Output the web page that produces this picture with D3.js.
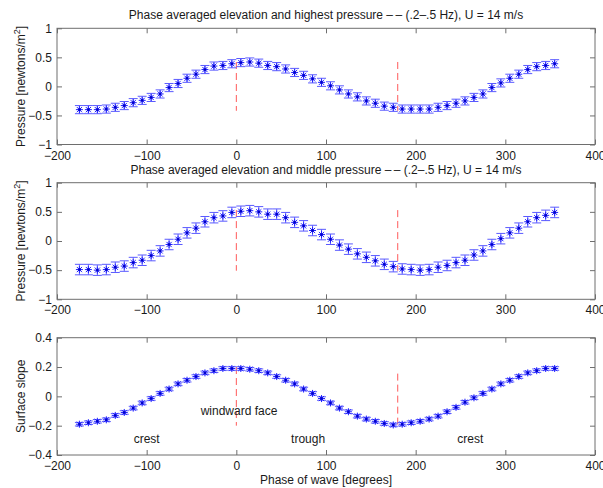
<!DOCTYPE html>
<html>
<head>
<meta charset="utf-8">
<script src="https://cdn.jsdelivr.net/npm/d3@7"></script>
<style>
  body { margin: 0; background: #fff; }
  svg text { font-family: "Liberation Sans", Arial, sans-serif; fill: #1a1a1a; }
</style>
</head>
<body>
<div id="chart"></div>
<script>
const WIDTH = 603;
const HEIGHT = 488;
const PLOT_LEFT = 57;
const PLOT_RIGHT = 595;

// phase of wave, degrees
const PHASE = [-175, -165, -155, -145, -135, -125, -115, -105, -95, -85, -75, -65, -55, -45, -35, -25, -15, -5,
  5, 15, 25, 35, 45, 55, 65, 75, 85, 95, 105, 115, 125, 135, 145, 155, 165, 175,
  185, 195, 205, 215, 225, 235, 245, 255, 265, 275, 285, 295, 305, 315, 325, 335, 345, 355];

// highest pressure
const HIGH_P = [-0.40, -0.40, -0.40, -0.39, -0.36, -0.33, -0.28, -0.24, -0.19, -0.13, -0.02, 0.05, 0.14, 0.21, 0.29, 0.35, 0.36, 0.39,
  0.41, 0.42, 0.40, 0.36, 0.34, 0.30, 0.24, 0.19, 0.13, 0.07, 0.01, -0.06, -0.13, -0.18, -0.25, -0.29, -0.34, -0.36,
  -0.39, -0.39, -0.39, -0.39, -0.36, -0.33, -0.29, -0.25, -0.19, -0.13, -0.02, 0.06, 0.14, 0.21, 0.29, 0.34, 0.36, 0.39];
const HIGH_ERR = 0.07;

// middle pressure
const MID_P = [-0.49, -0.49, -0.50, -0.49, -0.45, -0.43, -0.37, -0.33, -0.25, -0.17, -0.06, 0.03, 0.14, 0.22, 0.33, 0.40, 0.43, 0.49,
  0.51, 0.52, 0.50, 0.46, 0.46, 0.40, 0.32, 0.26, 0.18, 0.11, 0.03, -0.07, -0.14, -0.22, -0.28, -0.34, -0.40, -0.44,
  -0.48, -0.49, -0.50, -0.49, -0.45, -0.42, -0.37, -0.33, -0.24, -0.17, -0.06, 0.04, 0.14, 0.22, 0.33, 0.40, 0.44, 0.49];
const MID_ERR = 0.09;

// surface slope
const SLOPE = [-0.19, -0.18, -0.17, -0.16, -0.13, -0.11, -0.08, -0.045, -0.015, 0.02, 0.05, 0.085, 0.11, 0.135, 0.16, 0.175, 0.19, 0.19,
  0.19, 0.185, 0.175, 0.16, 0.135, 0.11, 0.085, 0.05, 0.02, -0.015, -0.045, -0.08, -0.105, -0.135, -0.155, -0.17, -0.185, -0.195,
  -0.19, -0.18, -0.17, -0.155, -0.135, -0.105, -0.075, -0.04, -0.01, 0.02, 0.05, 0.085, 0.11, 0.135, 0.16, 0.175, 0.19, 0.19];
const SLOPE_ERR = 0.012;

const X_TICKS = [-200, -100, 0, 100, 200, 300, 400];
const X_TICK_LABELS = ["\u2212200", "\u2212100", "0", "100", "200", "300", "400"];
const P_TICKS = [-1, -0.5, 0, 0.5, 1];
const P_TICK_LABELS = ["\u22121", "\u22120.5", "0", "0.5", "1"];
const S_TICKS = [-0.4, -0.2, 0, 0.2, 0.4];
const S_TICK_LABELS = ["\u22120.4", "\u22120.2", "0", "0.2", "0.4"];

// red dashed markers at crest / trough: [x, y0, y1]
const HIGH_DASH = [[0, -0.42, 0.42], [180, -0.42, 0.42]];
const MID_DASH = [[0, -0.51, 0.53], [180, -0.51, 0.53]];
const SLOPE_DASH = [[0, -0.2, 0.2], [180, -0.2, 0.155]];

const ANNOTATIONS = [
  {text: "windward face", x: 3, y: -0.125},
  {text: "crest", x: -100, y: -0.32},
  {text: "trough", x: 80, y: -0.32},
  {text: "crest", x: 261, y: -0.32}
];

const TITLE_HIGH = "Phase averaged elevation and highest pressure \u2013\u2009\u2013 (.2\u2013.5 Hz), U = 14 m/s";
const TITLE_MID = "Phase averaged elevation and middle pressure \u2013\u2009\u2013 (.2\u2013.5 Hz), U = 14 m/s";

const MARKER_COLOR = "#1f1fff";
const ERR_COLOR = "#5a5aff";
const AXIS_COLOR = "#6e6e6e";

const svg = d3.select("#chart").append("svg")
  .attr("width", WIDTH)
  .attr("height", HEIGHT);

const X_SCALE = d3.scaleLinear().domain([-200, 400]).range([PLOT_LEFT, PLOT_RIGHT]);

function drawPanel(opts) {
  const y = d3.scaleLinear().domain(opts.domain).range([opts.bottom, opts.top]);
  const g = svg.append("g");

  // box
  g.append("rect")
    .attr("x", PLOT_LEFT).attr("y", opts.top)
    .attr("width", PLOT_RIGHT - PLOT_LEFT).attr("height", opts.bottom - opts.top)
    .attr("fill", "none").attr("stroke", AXIS_COLOR).attr("stroke-width", 1);

  // axes with inward ticks
  g.append("g")
    .attr("transform", "translate(0," + opts.bottom + ")")
    .call(d3.axisBottom(X_SCALE).tickValues(X_TICKS).tickSizeInner(-5).tickSizeOuter(0)
      .tickPadding(6.5).tickFormat((d, i) => X_TICK_LABELS[i]));
  g.append("g")
    .attr("transform", "translate(0," + opts.top + ")")
    .call(d3.axisTop(X_SCALE).tickValues(X_TICKS).tickSizeInner(-5).tickSizeOuter(0).tickFormat(""));
  g.append("g")
    .attr("transform", "translate(" + PLOT_LEFT + ",0)")
    .call(d3.axisLeft(y).tickValues(opts.ticks).tickSizeInner(-5).tickSizeOuter(0)
      .tickPadding(5).tickFormat((d, i) => opts.tickLabels[i]));
  g.append("g")
    .attr("transform", "translate(" + PLOT_RIGHT + ",0)")
    .call(d3.axisRight(y).tickValues(opts.ticks).tickSizeInner(-5).tickSizeOuter(0).tickFormat(""));

  g.selectAll(".domain").remove();
  g.selectAll(".tick line").attr("stroke", AXIS_COLOR);
  g.selectAll(".tick text")
    .attr("font-size", "12px")
    .attr("font-family", "'Liberation Sans', Arial, sans-serif")
    .attr("fill", "#1a1a1a");

  // red dashed lines
  g.selectAll(".dash")
    .data(opts.dash)
    .enter()
    .append("line")
      .attr("x1", (d) => X_SCALE(d[0]))
      .attr("x2", (d) => X_SCALE(d[0]))
      .attr("y1", (d) => y(d[2]))
      .attr("y2", (d) => y(d[1]))
      .attr("stroke", "#ff5a5a")
      .attr("stroke-width", 1)
      .attr("stroke-dasharray", "7,4");

  const pts = PHASE.map((p, i) => ({x: p, v: opts.values[i]}));
  const cap = 4.5;

  // error bars
  const eb = g.selectAll(".err")
    .data(pts)
    .enter()
    .append("g")
      .attr("stroke", ERR_COLOR)
      .attr("stroke-width", 1);
  eb.append("line")
    .attr("x1", (d) => X_SCALE(d.x)).attr("x2", (d) => X_SCALE(d.x))
    .attr("y1", (d) => y(d.v - opts.err)).attr("y2", (d) => y(d.v + opts.err));
  eb.append("line")
    .attr("x1", (d) => X_SCALE(d.x) - cap).attr("x2", (d) => X_SCALE(d.x) + cap)
    .attr("y1", (d) => y(d.v - opts.err)).attr("y2", (d) => y(d.v - opts.err));
  eb.append("line")
    .attr("x1", (d) => X_SCALE(d.x) - cap).attr("x2", (d) => X_SCALE(d.x) + cap)
    .attr("y1", (d) => y(d.v + opts.err)).attr("y2", (d) => y(d.v + opts.err));

  // asterisk markers
  const r = 3.5;
  const rd = 2.6;
  g.selectAll(".star")
    .data(pts)
    .enter()
    .append("path")
      .attr("d", (d) => {
        const cx = X_SCALE(d.x), cy = y(d.v);
        return "M" + (cx - r) + "," + cy + "H" + (cx + r) +
          "M" + cx + "," + (cy - r) + "V" + (cy + r) +
          "M" + (cx - rd) + "," + (cy - rd) + "L" + (cx + rd) + "," + (cy + rd) +
          "M" + (cx - rd) + "," + (cy + rd) + "L" + (cx + rd) + "," + (cy - rd);
      })
      .attr("stroke", MARKER_COLOR)
      .attr("stroke-width", 1)
      .attr("fill", "none");

  g.selectAll(".dot")
    .data(pts)
    .enter()
    .append("rect")
      .attr("x", (d) => X_SCALE(d.x) - 1.2)
      .attr("y", (d) => y(d.v) - 1.2)
      .attr("width", 2.4).attr("height", 2.4)
      .attr("fill", "#0000c8");

  // title
  if (opts.title) {
    g.append("text")
      .attr("x", (PLOT_LEFT + PLOT_RIGHT) / 2)
      .attr("y", opts.top - 9)
      .attr("text-anchor", "middle")
      .attr("font-size", "12px")
      .text(opts.title);
  }

  // y label
  const cy = (opts.top + opts.bottom) / 2;
  const yl = g.append("text")
    .attr("transform", "translate(25," + cy + ") rotate(-90)")
    .attr("text-anchor", "middle")
    .attr("font-size", "12px");
  if (opts.superLabel) {
    yl.append("tspan").text("Pressure [newtons/m");
    yl.append("tspan").attr("dy", -5).attr("font-size", "9px").text("2");
    yl.append("tspan").attr("dy", 5).text("]");
  } else {
    yl.text(opts.ylabel);
  }
  return {g: g, y: y};
}

drawPanel({top: 28.3, bottom: 144.5, domain: [-1, 1], ticks: P_TICKS, tickLabels: P_TICK_LABELS,
  values: HIGH_P, err: HIGH_ERR, dash: HIGH_DASH, title: TITLE_HIGH, superLabel: true});

drawPanel({top: 182.7, bottom: 299.3, domain: [-1, 1], ticks: P_TICKS, tickLabels: P_TICK_LABELS,
  values: MID_P, err: MID_ERR, dash: MID_DASH, title: TITLE_MID, superLabel: true});

const slopePanel = drawPanel({top: 337.7, bottom: 455, domain: [-0.4, 0.4], ticks: S_TICKS, tickLabels: S_TICK_LABELS,
  values: SLOPE, err: SLOPE_ERR, dash: SLOPE_DASH, title: null, ylabel: "Surface slope"});

// annotations on the slope panel
slopePanel.g.selectAll(".note")
  .data(ANNOTATIONS)
  .enter()
  .append("text")
    .attr("x", (d) => X_SCALE(d.x))
    .attr("y", (d) => slopePanel.y(d.y))
    .attr("text-anchor", "middle")
    .attr("font-size", "12px")
    .text((d) => d.text);

// x label
svg.append("text")
  .attr("x", (PLOT_LEFT + PLOT_RIGHT) / 2)
  .attr("y", 484)
  .attr("text-anchor", "middle")
  .attr("font-size", "12px")
  .text("Phase of wave [degrees]");
</script>
</body>
</html>
